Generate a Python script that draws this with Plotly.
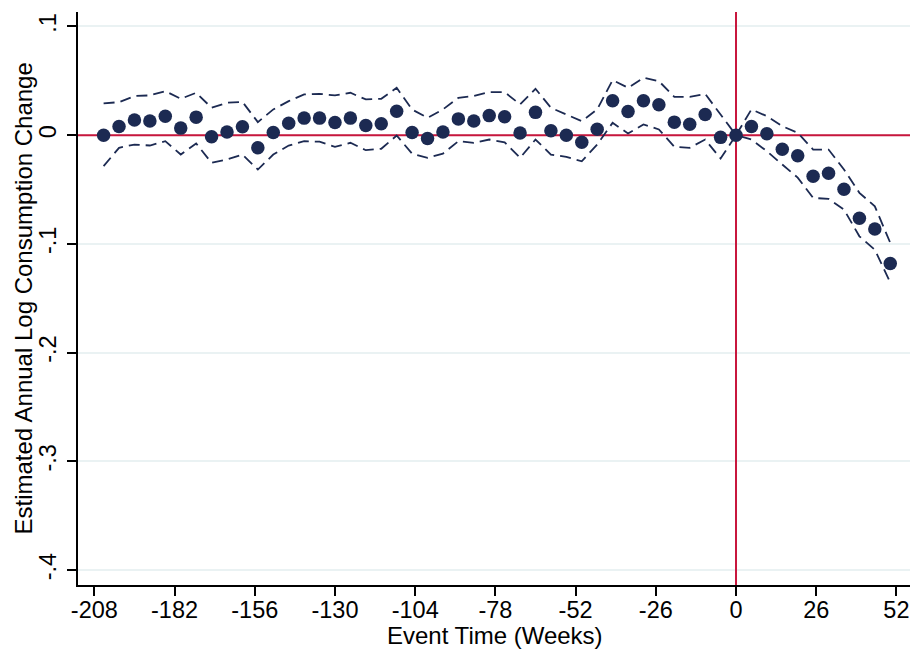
import plotly.graph_objects as go

weeks = list(range(-205, 51, 5))
estimate = [0.000, 0.008, 0.014, 0.013, 0.0175, 0.0065, 0.0166, -0.0015, 0.003, 0.0077,
            -0.0116, 0.0025, 0.011, 0.0157, 0.0157, 0.0117, 0.0157, 0.009, 0.0105, 0.022,
            0.0025, -0.003, 0.003, 0.015, 0.013, 0.018, 0.017, 0.002, 0.021, 0.004,
            0.000, -0.0064, 0.0055, 0.0317, 0.0218, 0.0317, 0.028, 0.012, 0.010, 0.019,
            -0.002, 0.000, 0.008, 0.0013, -0.0129, -0.019, -0.0378, -0.035, -0.0497, -0.0764,
            -0.0862, -0.118]
upper = [0.0292, 0.0304, 0.036, 0.0366, 0.0405, 0.0335, 0.039, 0.0252, 0.0298, 0.0307,
         0.012, 0.0237, 0.0313, 0.0375, 0.038, 0.0366, 0.039, 0.0329, 0.0335, 0.0436,
         0.0236, 0.016, 0.0237, 0.0344, 0.036, 0.0396, 0.0396, 0.0283, 0.0427, 0.0252,
         0.019, 0.0129, 0.0237, 0.0507, 0.0436, 0.0528, 0.0497, 0.0353, 0.0353, 0.038,
         0.019, 0.0, 0.0237, 0.0175, 0.0083, 0.0022, -0.0132, -0.0132, -0.0316, -0.053,
         -0.0654, -0.099]
lower = [-0.0285, -0.0116, -0.0086, -0.0095, -0.0055, -0.0178, -0.0076, -0.0254, -0.0224, -0.0178,
         -0.0316, -0.0178, -0.0095, -0.0055, -0.006, -0.0107, -0.007, -0.0138, -0.0125, -0.0003,
         -0.0170, -0.0208, -0.0169, -0.0055, -0.007, -0.004, -0.0065, -0.0208, -0.004, -0.0178,
         -0.02, -0.024, -0.0086, 0.0114, 0.0016, 0.0099, 0.0053, -0.0107, -0.0116, -0.004,
         -0.0215, 0.0, -0.004, -0.0147, -0.027, -0.039, -0.0577, -0.0586, -0.0684, -0.093,
         -0.1054, -0.1354]

x_ticks = [-208, -182, -156, -130, -104, -78, -52, -26, 0, 26, 52]
y_ticks = [0.1, 0.0, -0.1, -0.2, -0.3, -0.4]
y_ticktext = [".1", "0", "-.1", "-.2", "-.3", "-.4"]
x_title = "Event Time (Weeks)"
y_title = "Estimated Annual Log Consumption Change"
x_range = [-213.3, 56.4]
y_range = [-0.4137, 0.1133]
event_week = 0
zero_effect = 0

navy = "#1c2a52"
red = "#c8163d"
font_family = "Liberation Sans, Arial, sans-serif"

W, H = 912, 649
ML, MR, MT, MB = 78, 2, 12, 64
plot_w = W - ML - MR
plot_h = H - MT - MB

fig = go.Figure()
# reference lines (drawn first so markers sit on top)
fig.add_trace(go.Scatter(x=x_range, y=[zero_effect, zero_effect], mode="lines",
                         line=dict(color=red, width=2), showlegend=False, hoverinfo="skip"))
fig.add_trace(go.Scatter(x=[event_week, event_week], y=y_range, mode="lines",
                         line=dict(color=red, width=2), showlegend=False, hoverinfo="skip"))
for band in (upper, lower):
    fig.add_trace(go.Scatter(x=weeks, y=band, mode="lines",
                             line=dict(color=navy, width=1.8, dash="11px,6px"),
                             showlegend=False, hoverinfo="skip"))
fig.add_trace(go.Scatter(x=weeks, y=estimate, mode="markers",
                         marker=dict(color=navy, size=13.5, line=dict(width=0)),
                         showlegend=False))

fig.add_annotation(text=x_title, xref="paper", yref="paper",
                   x=(495 - ML) / plot_w, y=-(635 - (H - MB)) / plot_h,
                   xanchor="center", yanchor="middle", showarrow=False,
                   font=dict(size=24, color="black"))
fig.add_annotation(text=y_title, xref="paper", yref="paper",
                   x=-(ML - 23) / plot_w, y=0.5, textangle=-90,
                   xanchor="center", yanchor="middle", showarrow=False,
                   font=dict(size=24, color="black"))

fig.update_layout(
    width=W, height=H,
    margin=dict(l=ML, r=MR, t=MT, b=MB, autoexpand=False),
    paper_bgcolor="white", plot_bgcolor="white",
    font=dict(family=font_family, size=23.5, color="black"),
    xaxis=dict(range=x_range, tickvals=x_ticks, ticktext=[str(t) for t in x_ticks],
               automargin=False, ticklabelstandoff=-6,
               showgrid=False, zeroline=False, showline=True, linecolor="black", linewidth=1.5,
               ticks="outside", ticklen=9, tickwidth=1.5, tickcolor="black"),
    yaxis=dict(range=y_range, tickvals=y_ticks, ticktext=y_ticktext,
               tickangle=-90, automargin=False, ticklabelstandoff=2,
               showgrid=True, gridcolor="#eaf2f3", gridwidth=2,
               zeroline=False, showline=True, linecolor="black", linewidth=1.5,
               ticks="outside", ticklen=9, tickwidth=1.5, tickcolor="black"),
)

fig.write_html("out.html", config={"displayModeBar": False},
               post_script="document.body.style.margin='0';")
